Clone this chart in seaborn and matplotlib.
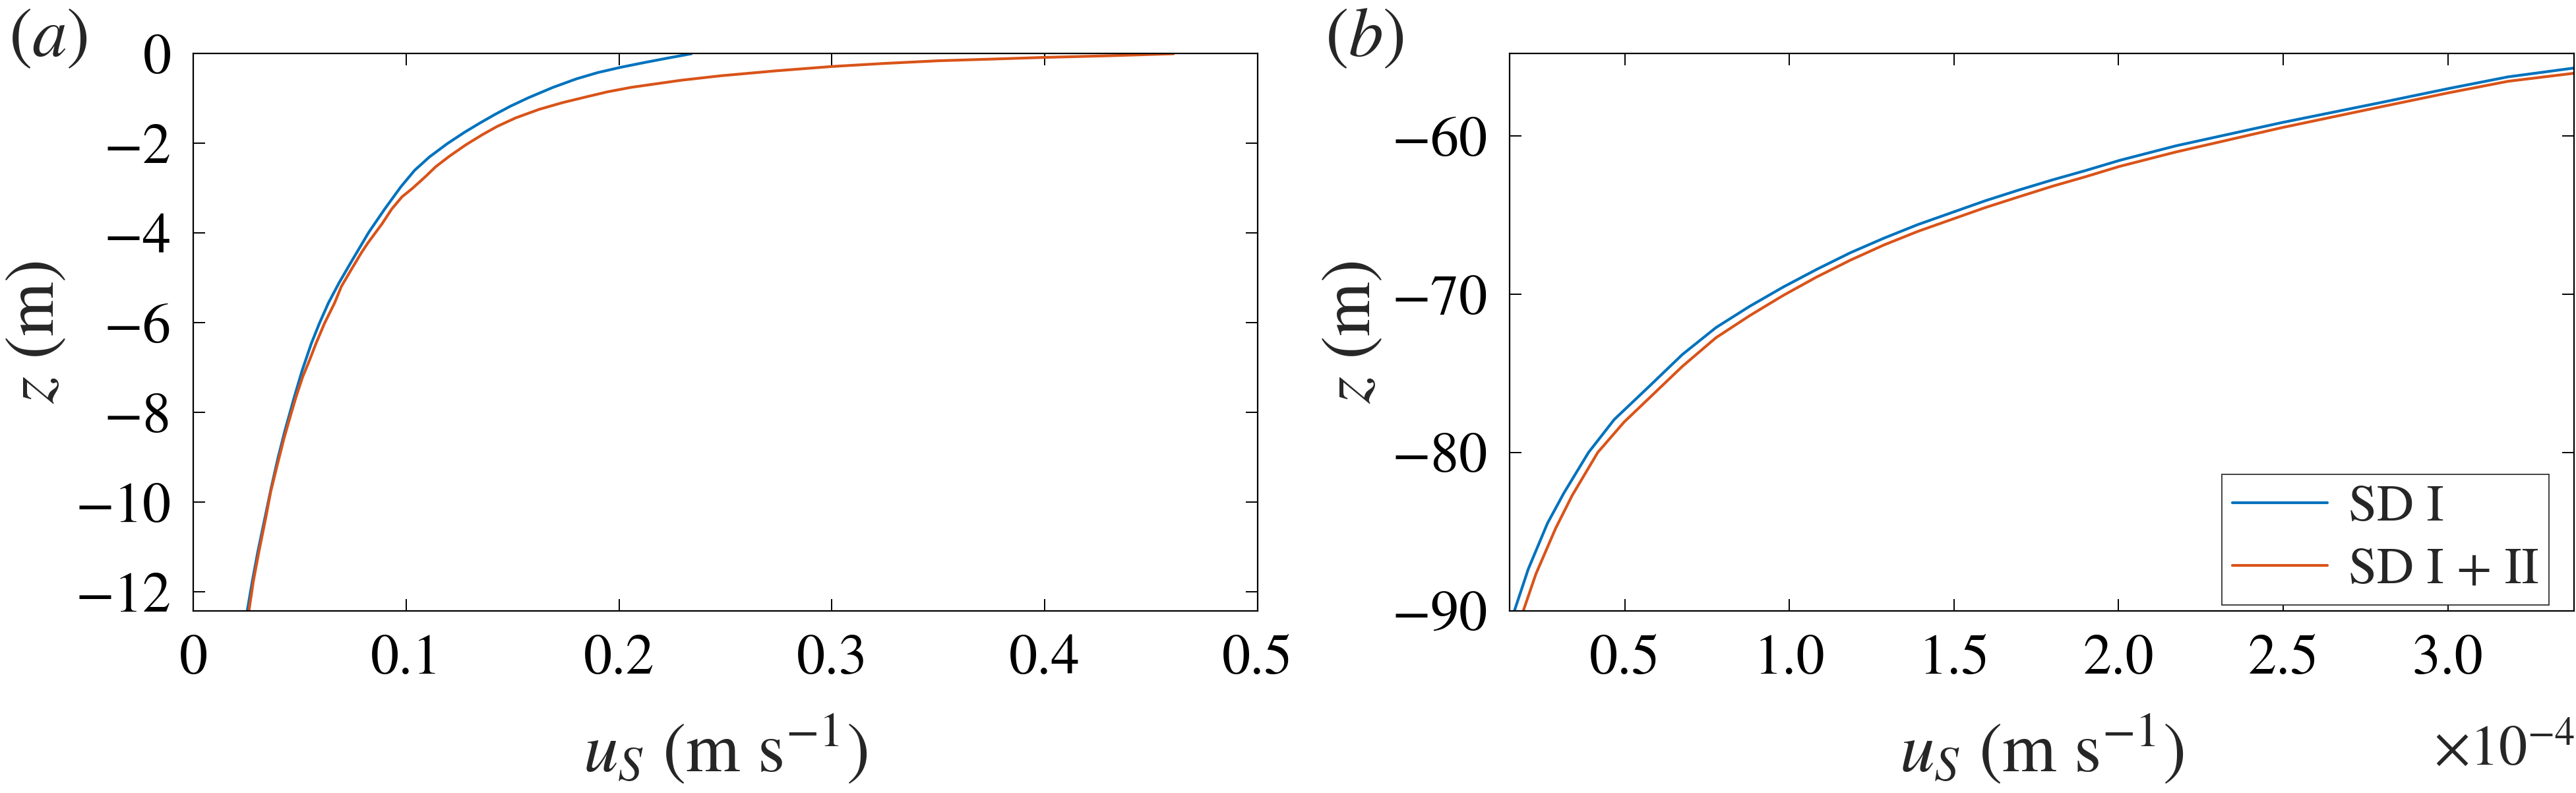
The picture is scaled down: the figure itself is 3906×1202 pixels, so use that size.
"""
Stokes drift profiles, SD I against SD I + II.
Panel (a): near-surface profile, panel (b): deep tail.
"""

import matplotlib
matplotlib.use("Agg")
import matplotlib.pyplot as plt
import pandas as pd
import seaborn as sns

# ---------------------------------
# Data
# ---------------------------------

# panel (a): u_S in m/s, z in m
z_a_sd1 = [-12.42, -11.78, -11.12, -10.44, -9.69, -9.02, -8.42, -7.67, -7.06,
           -6.46, -6.01, -5.56, -5.11, -4.62, -3.98, -3.46, -2.97, -2.60,
           -2.30, -2.00, -1.75, -1.55, -1.36, -1.17, -0.98, -0.75, -0.56,
           -0.42, -0.30, -0.20, -0.10, 0.0]
u_a_sd1 = [0.0254, 0.0277, 0.0303, 0.0333, 0.0366, 0.0398, 0.0430, 0.0474,
           0.0512, 0.0555, 0.0593, 0.0635, 0.0685, 0.0745, 0.0825, 0.0900,
           0.0975, 0.1040, 0.1110, 0.1195, 0.1275, 0.1345, 0.1415, 0.1490,
           0.1575, 0.1690, 0.1800, 0.1900, 0.2010, 0.2115, 0.2225, 0.2340]

z_a_sd12 = [-12.42, -11.78, -11.12, -10.37, -9.77, -9.17, -8.57, -8.04, -7.67,
            -7.21, -6.84, -6.46, -6.01, -5.56, -5.19, -4.81, -4.43, -4.21,
            -3.80, -3.46, -3.19, -3.01, -2.74, -2.52, -2.29, -2.03, -1.80,
            -1.62, -1.43, -1.24, -1.09, -0.98, -0.85, -0.75, -0.59, -0.49,
            -0.38, -0.284, -0.216, -0.156, -0.119, -0.081, -0.044, 0.0]
u_a_sd12 = [0.0262, 0.0282, 0.0308, 0.0340, 0.0364, 0.0395, 0.0427, 0.0459,
            0.0482, 0.0514, 0.0546, 0.0577, 0.0617, 0.0664, 0.0696, 0.0743,
            0.0791, 0.0822, 0.0886, 0.0933, 0.0981, 0.1028, 0.1091, 0.1139,
            0.1202, 0.1281, 0.1360, 0.1428, 0.1515, 0.1625, 0.1735, 0.1830,
            0.1945, 0.2056, 0.2293, 0.2480, 0.2739, 0.3000, 0.3245, 0.3500,
            0.3750, 0.4000, 0.4305, 0.4605]

# panel (b): u_S in units of 1e-4 m/s, z in m
z_b_sd1 = [-90.0, -87.37, -84.49, -82.57, -80.0, -77.92, -75.85, -73.81,
           -72.11, -70.77, -69.55, -68.43, -67.37, -66.45, -65.60, -64.85,
           -64.10, -63.42, -62.78, -62.18, -61.54, -60.62, -59.15, -57.87,
           -57.0, -56.26, -55.70]
u_b_sd1_e4 = [0.165, 0.207, 0.265, 0.315, 0.390, 0.468, 0.573, 0.675, 0.777,
              0.879, 0.981, 1.083, 1.186, 1.288, 1.390, 1.492, 1.594, 1.696,
              1.798, 1.900, 2.003, 2.174, 2.496, 2.800, 3.002, 3.183, 3.384]

z_b_sd12 = [-90.0, -87.69, -84.8, -82.73, -80.0, -78.08, -76.59, -74.56,
            -72.75, -71.36, -70.08, -68.91, -67.84, -66.88, -66.03, -65.28,
            -64.53, -63.85, -63.18, -62.57, -61.92, -61.01, -59.47, -58.14,
            -57.27, -56.54, -56.03]
u_b_sd12_e4 = [0.192, 0.230, 0.290, 0.340, 0.418, 0.498, 0.573, 0.675, 0.777,
               0.879, 0.981, 1.083, 1.186, 1.288, 1.390, 1.492, 1.594, 1.696,
               1.798, 1.900, 2.003, 2.174, 2.496, 2.800, 3.002, 3.183, 3.384]

cases = ["SD I", "SD I + II"]

xticks_a = [0, 0.1, 0.2, 0.3, 0.4, 0.5]
xticklabels_a = ["0", "0.1", "0.2", "0.3", "0.4", "0.5"]
yticks_a = [0, -2, -4, -6, -8, -10, -12]

xticks_b = [0.5, 1.0, 1.5, 2.0, 2.5, 3.0]
xticklabels_b = ["0.5", "1.0", "1.5", "2.0", "2.5", "3.0"]
yticks_b = [-90, -80, -70, -60]

# ---------------------------------
# Style
# ---------------------------------

sns.set_style("ticks")
plt.rcParams["font.family"] = ["STIXGeneral", "Liberation Serif", "DejaVu Serif"]
plt.rcParams["mathtext.fontset"] = "stix"

palette = {"SD I": "#0072BD", "SD I + II": "#D95319"}

TICK_FS = 62
LABEL_FS = 76
LW = 3.0


def profile_frame(u1, z1, u2, z2):
    return pd.concat(
        [
            pd.DataFrame({"u": u1, "z": z1, "case": cases[0]}),
            pd.DataFrame({"u": u2, "z": z2, "case": cases[1]}),
        ],
        ignore_index=True,
    )


def style_axes(ax):
    for sp in ax.spines.values():
        sp.set_visible(True)
        sp.set_linewidth(1.6)
        sp.set_color("black")
    ax.tick_params(
        direction="in", length=13, width=1.4, top=True, right=True,
        colors="black", labelsize=TICK_FS
    )
    ax.tick_params(axis="x", pad=26)
    ax.tick_params(axis="y", pad=24)
    ax.set_xlabel(r"$u_S$ (m s$^{-1}$)", fontsize=LABEL_FS)
    ax.set_ylabel(r"$z$ (m)", fontsize=LABEL_FS)
    ax.xaxis.set_label_coords(0.5, -0.185)
    ax.yaxis.set_label_coords(-0.117, 0.5)


fig = plt.figure(figsize=(39.06, 12.02), dpi=100)
ax_a = fig.add_axes([0.0750, 0.2300, 0.4132, 0.7022])
ax_b = fig.add_axes([0.5860, 0.2300, 0.4133, 0.7022])

# ---------------------------------
# Panel (a)
# ---------------------------------

df_a = profile_frame(u_a_sd1, z_a_sd1, u_a_sd12, z_a_sd12)

sns.lineplot(
    data=df_a, x="u", y="z", hue="case", palette=palette,
    sort=False, estimator=None, linewidth=LW, legend=False, ax=ax_a
)

ax_a.set_xlim(0, 0.5)
ax_a.set_ylim(-12.42, 0)
ax_a.set_xticks(xticks_a)
ax_a.set_xticklabels(xticklabels_a)
ax_a.set_yticks(yticks_a)
style_axes(ax_a)

# ---------------------------------
# Panel (b)
# ---------------------------------

df_b = profile_frame(u_b_sd1_e4, z_b_sd1, u_b_sd12_e4, z_b_sd12)

sns.lineplot(
    data=df_b, x="u", y="z", hue="case", palette=palette,
    sort=False, estimator=None, linewidth=LW, legend=True, ax=ax_b
)

ax_b.set_xlim(0.150, 3.384)
ax_b.set_ylim(-90, -54.8)
ax_b.set_xticks(xticks_b)
ax_b.set_xticklabels(xticklabels_b)
ax_b.set_yticks(yticks_b)
style_axes(ax_b)

handles, labels = ax_b.get_legend_handles_labels()
leg = ax_b.legend(
    handles, labels, loc="lower right", bbox_to_anchor=(0.9765, 0.0107),
    borderaxespad=0, fontsize=56, frameon=True, fancybox=False,
    edgecolor="#333333", framealpha=1, handlelength=1.85,
    handletextpad=0.42, borderpad=0.2, labelspacing=0.3
)
leg.get_frame().set_linewidth(1.3)
for line in leg.get_lines():
    line.set_linewidth(LW)

# x10^-4 multiplier under panel (b)
fig.text(0.9995, 1 - 1159 / 1202, r"×10$^{-4}$", ha="right", va="baseline",
         fontsize=TICK_FS)

# panel tags
fig.text(13 / 3906, 1 - 12 / 1202, r"($a$)", ha="left", va="top",
         fontsize=76)
fig.text(2009 / 3906, 1 - 12 / 1202, r"($b$)", ha="left", va="top",
         fontsize=76)

fig.savefig("out.png", dpi=100)
plt.close(fig)
